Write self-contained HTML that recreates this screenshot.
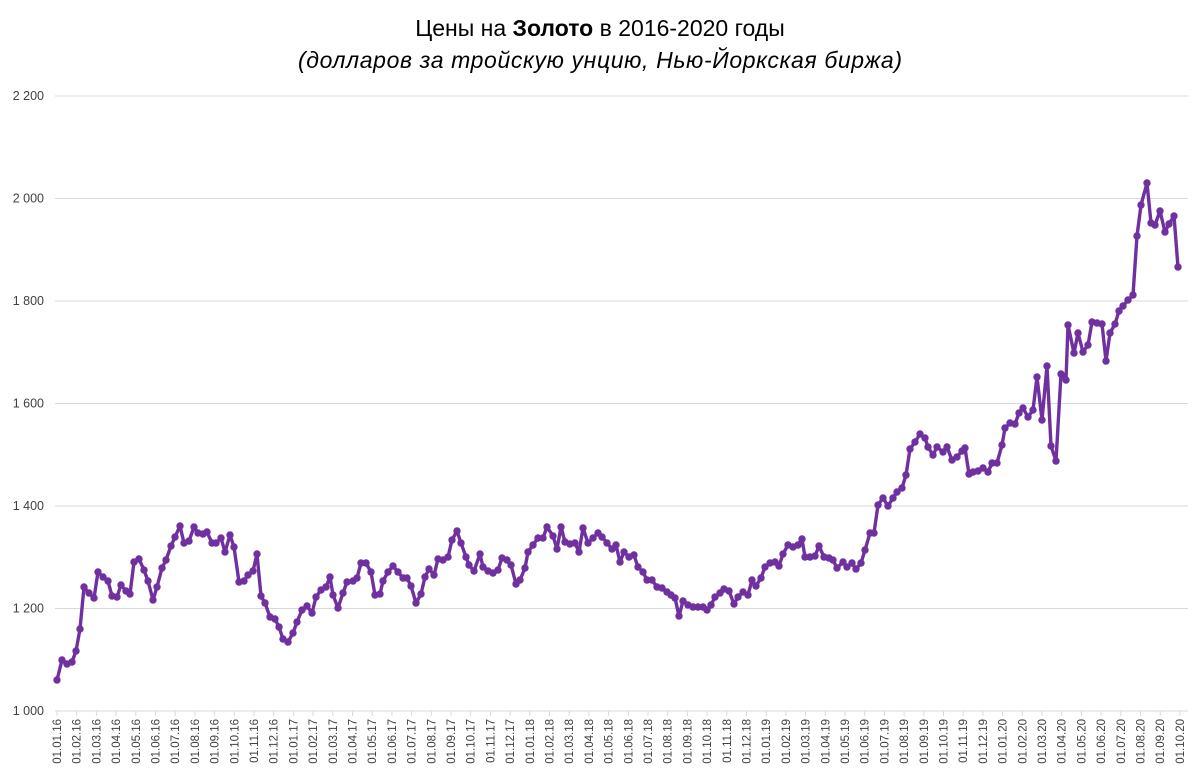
<!DOCTYPE html>
<html><head><meta charset="utf-8"><style>
body{margin:0;background:#fff}
svg{display:block;font-family:"Liberation Sans",sans-serif}
</style></head><body>
<svg id="s" width="1201" height="779" xmlns="http://www.w3.org/2000/svg">
<text x="600" y="36" text-anchor="middle" font-size="23" fill="#000">Цены на <tspan font-weight="bold">Золото</tspan> в 2016-2020 годы</text>
<text x="600" y="68" text-anchor="middle" font-size="23" font-style="italic" fill="#000" textLength="604" lengthAdjust="spacing">(долларов за тройскую унцию, Нью-Йоркская биржа)</text>
<g id="grid" stroke="#d9d9d9" stroke-width="1"></g>
<g id="ylab" font-size="12.5" fill="#404040" text-anchor="end"></g>
<g id="xlab" font-size="11.5" fill="#404040"></g>
<polyline id="ln" fill="none" stroke="#7030a0" stroke-width="3.4" stroke-linejoin="round"/>
<g id="dots" fill="#7030a0"></g>
</svg>
<script>
var ns="http://www.w3.org/2000/svg",s=document.getElementById('s');
function el(p,t,a,txt){var e=document.createElementNS(ns,t);for(var k in a)e.setAttribute(k,a[k]);if(txt)e.textContent=txt;document.getElementById(p).appendChild(e);}
var labs=["1 000","1 200","1 400","1 600","1 800","2 000","2 200"];
for(var i=0;i<7;i++){var y=711-i*102.5;el('grid','line',{x1:55,x2:1188,y1:y,y2:y});el('ylab','text',{x:44,y:y+4},labs[i]);}
for(var k=0;k<58;k++){var x=57+k*19.7;el('grid','line',{x1:x,x2:x,y1:711,y2:716});
var m=(k%12)+1,yr=16+Math.floor(k/12);var t="01."+(m<10?"0":"")+m+"."+yr;
el('xlab','text',{x:0,y:0,transform:"translate("+(x+4)+",719) rotate(-90)","text-anchor":"end"},t);}
var P=[57,680,62,660,67,664,72,662,76,651,80,629,84,587,89,593,94,598,98,572,103,577,108,581,112,596,117,597,121,585,126,591,130,594,134,562,139,559,144,570,148,581,153,600,157,587,162,568,166,560,171,546,175,537,180,526,184,543,189,541,194,527,198,533,203,534,207,532,212,543,216,543,221,538,225,552,230,535,234,547,239,582,244,581,248,575,253,571,257,554,261,596,265,603,270,617,275,619,279,627,283,639,288,642,293,633,297,622,302,610,307,606,312,613,316,597,321,590,326,587,330,577,333,595,338,608,343,593,347,582,353,581,357,578,361,563,366,563,371,572,375,595,380,594,383,581,388,572,393,566,398,572,403,578,407,578,411,586,416,603,421,594,425,577,429,569,434,575,438,559,443,560,448,557,452,540,457,531,461,543,466,557,469,565,474,571,480,554,483,567,488,571,493,573,498,570,502,558,507,560,511,565,516,584,520,580,525,568,528,552,533,545,538,538,543,538,547,527,553,536,557,549,561,527,565,542,570,544,575,543,579,552,583,528,588,543,593,538,598,533,602,537,607,543,612,549,616,545,620,562,624,552,629,557,634,555,638,567,643,572,647,580,652,580,657,587,662,588,667,592,671,595,675,598,679,616,683,601,688,605,693,607,698,607,703,607,707,610,711,605,715,597,720,593,724,589,729,591,734,604,738,597,743,592,748,595,752,580,756,586,761,578,765,567,770,563,775,562,779,566,783,554,788,545,793,547,798,545,802,539,805,557,810,557,815,556,819,546,824,557,829,558,833,560,837,568,843,562,847,567,852,563,856,569,861,563,865,550,870,533,874,533,878,505,883,498,888,506,893,498,897,492,902,488,906,475,910,449,915,442,920,434,925,438,928,447,933,455,937,447,943,452,947,447,952,460,957,457,962,451,965,448,969,474,973,472,978,471,983,468,988,472,992,463,997,463,1002,445,1005,428,1010,423,1015,424,1019,413,1023,408,1028,417,1033,410,1037,377,1042,420,1047,366,1051,446,1056,461,1061,374,1066,380,1068,325,1074,353,1078,333,1083,352,1088,345,1092,322,1097,323,1102,324,1106,361,1110,333,1115,324,1119,311,1123,306,1128,300,1133,295,1137,236,1141,205,1147,183,1151,223,1155,225,1160,211,1165,232,1169,224,1174,216,1178,267];
var pts=[];for(var i=0;i<P.length;i+=2){pts.push(P[i]+","+P[i+1]);el('dots','circle',{cx:P[i],cy:P[i+1],r:3.7});}
document.getElementById('ln').setAttribute('points',pts.join(' '));
</script>
</body></html>
